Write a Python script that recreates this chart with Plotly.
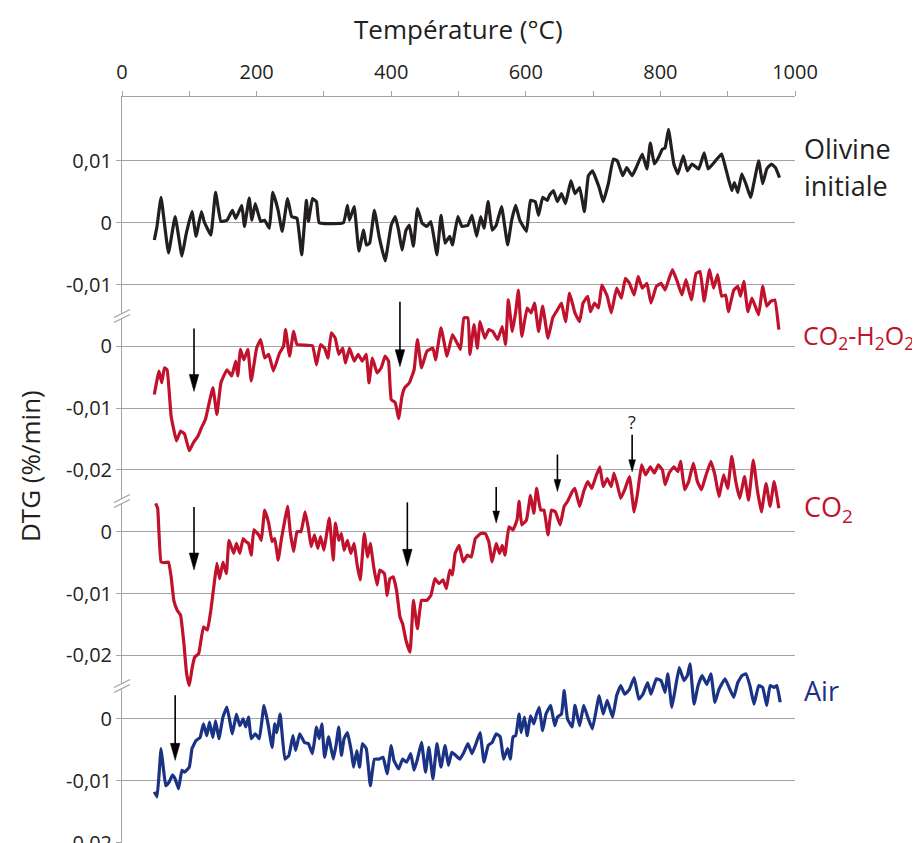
import plotly.graph_objects as go

FONT = "Open Sans"
INK = "#231f20"
RED = "#c0122c"
BLUE = "#1b3385"
GREY = "#a3a3a3"

# Temperature (°C) and DTG (%/min)
olivine_T = [48, 52, 58, 69, 79, 89, 95, 104, 110, 118, 122, 132, 139, 147, 156, 164, 169, 178, 182, 189,
             193, 198, 206, 212, 219, 224, 232, 238, 246, 252, 260, 267, 274, 277, 283, 289, 293, 329, 335, 338,
             345, 352, 359, 363, 368, 375, 382, 391, 400, 406, 411, 416, 422, 427, 433, 439, 446, 453, 459, 468,
             474, 480, 487, 491, 499, 505, 514, 520, 527, 533, 538, 544, 550, 556, 564, 573, 579, 585, 591, 601,
             607, 614, 619, 625, 632, 635, 641, 647, 653, 659, 667, 673, 680, 687, 693, 699, 709, 715, 723, 730,
             736, 744, 750, 758, 764, 773, 780, 785, 791, 797, 803, 807, 812, 820, 826, 834, 840, 847, 857, 865,
             871, 878, 884, 891, 898, 906, 910, 915, 921, 928, 934, 946, 952, 958, 965, 971, 977]
olivine_dtg = [-2.8e-3, -0.6e-3, 4.1e-3, -4.9e-3, 1.0e-3, -5.4e-3, -2.0e-3, 1.8e-3, -2.2e-3, 1.8e-3,
               0.2e-3, -2.0e-3, 4.9e-3, 0.2e-3, 0.4e-3, 2.0e-3, 0.7e-3, 2.8e-3, -0.6e-3, 4.0e-3,
               0.4e-3, 3.1e-3, 0.2e-3, 0.4e-3, -0.9e-3, 4.9e-3, 2.0e-3, -1.4e-3, 3.9e-3, 1.0e-3,
               0.7e-3, -5.2e-3, 3.6e-3, 0.2e-3, 3.9e-3, 3.4e-3, 0.0, 0.0, 2.8e-3, 0.4e-3,
               2.6e-3, -4.6e-3, -1.2e-3, -3.6e-3, -3.3e-3, 2.0e-3, -2.2e-3, -6.2e-3, -0.4e-3, 1.0e-3,
               -1.2e-3, -4.4e-3, -1.2e-3, -0.4e-3, -3.8e-3, 2.3e-3, -0.1e-3, -0.6e-3, 0.2e-3, -5.2e-3,
               1.2e-3, -3.3e-3, -2.2e-3, -3.6e-3, 1.0e-3, -0.6e-3, -0.4e-3, 1.2e-3, -2.2e-3, 1.0e-3,
               -0.9e-3, 3.4e-3, -1.2e-3, -0.4e-3, 2.6e-3, -3.6e-3, 0.4e-3, 2.8e-3, 0.4e-3, -1.4e-3,
               3.6e-3, 3.4e-3, 1.2e-3, 4.1e-3, 3.6e-3, 4.4e-3, 5.2e-3, 3.4e-3, 4.7e-3, 3.1e-3,
               6.8e-3, 4.7e-3, 5.7e-3, 1.8e-3, 7.6e-3, 8.4e-3, 5.7e-3, 3.4e-3, 6.5e-3, 10.3e-3,
               10.0e-3, 7.6e-3, 8.9e-3, 7.6e-3, 8.9e-3, 11.1e-3, 8.7e-3, 12.9e-3, 9.5e-3, 10.5e-3,
               11.9e-3, 12.1e-3, 15.1e-3, 9.5e-3, 7.9e-3, 10.8e-3, 8.4e-3, 9.5e-3, 8.7e-3, 11.3e-3,
               8.7e-3, 9.5e-3, 10.3e-3, 11.1e-3, 8.4e-3, 5.2e-3, 6.5e-3, 4.9e-3, 7.9e-3, 6.0e-3,
               4.1e-3, 10.0e-3, 6.3e-3, 8.7e-3, 9.5e-3, 8.9e-3, 7.3e-3]

co2h2o2_T = [48, 55, 59, 63, 67, 73, 81, 87, 93, 100, 106, 113, 118, 124, 135, 141, 147, 156, 163, 169,
             172, 176, 181, 187, 192, 200, 206, 212, 218, 225, 234, 240, 243, 249, 255, 260, 283, 289, 295, 301,
             306, 311, 317, 322, 328, 332, 338, 345, 351, 357, 363, 367, 372, 379, 385, 391, 396, 400, 406, 411,
             416, 420, 427, 434, 439, 445, 453, 462, 466, 474, 483, 491, 499, 503, 508, 514, 517, 523, 528, 532,
             539, 545, 551, 558, 565, 570, 574, 580, 585, 589, 594, 602, 608, 613, 619, 625, 633, 640, 647, 653,
             659, 665, 673, 680, 685, 692, 696, 702, 708, 713, 721, 727, 735, 742, 748, 754, 761, 767, 773, 780,
             786, 794, 801, 807, 813, 818, 825, 832, 838, 846, 853, 859, 865, 873, 879, 885, 891, 897, 901, 909,
             915, 919, 924, 930, 936, 946, 952, 958, 964, 970, 976]
co2h2o2_dtg = [-7.8e-3, -4.0e-3, -5.9e-3, -3.5e-3, -3.8e-3, -11.3e-3, -15.3e-3, -13.7e-3, -14.2e-3, -16.9e-3,
               -15.6e-3, -14.5e-3, -13.2e-3, -11.8e-3, -6.7e-3, -11.0e-3, -5.9e-3, -3.8e-3, -4.8e-3, -2.4e-3,
               -4.8e-3, -0.5e-3, -2.2e-3, -0.5e-3, -5.6e-3, -0.3e-3, 1.1e-3, -1.9e-3, -1.3e-3, -4.0e-3,
               -1.1e-3, 0.0, 2.7e-3, -1.6e-3, 2.4e-3, 0.3e-3, 0.1e-3, -3.0e-3, 0.3e-3, -0.3e-3,
               -1.9e-3, 2.2e-3, 1.3e-3, -1.3e-3, -0.3e-3, -2.7e-3, -0.3e-3, -2.4e-3, -1.3e-3, -2.4e-3,
               -1.3e-3, -5.9e-3, -1.9e-3, -4.3e-3, -3.5e-3, -1.6e-3, -2.4e-3, -8.6e-3, -9.1e-3, -11.7e-3,
               -8.1e-3, -6.7e-3, -5.9e-3, -3.8e-3, 1.1e-3, -3.5e-3, -0.8e-3, -0.3e-3, -2.2e-3, 3.0e-3,
               -1.6e-3, 1.9e-3, 0.3e-3, -0.5e-3, 4.6e-3, 4.6e-3, -1.3e-3, 3.5e-3, -0.3e-3, 4.0e-3,
               1.3e-3, 2.7e-3, 2.4e-3, 1.1e-3, 3.2e-3, 0.3e-3, 7.5e-3, 2.4e-3, 5.6e-3, 9.1e-3,
               1.6e-3, 6.2e-3, 5.4e-3, 7.0e-3, 2.4e-3, 6.5e-3, 1.3e-3, 4.6e-3, 5.9e-3, 7.0e-3,
               4.0e-3, 8.6e-3, 5.4e-3, 4.0e-3, 7.0e-3, 8.1e-3, 5.6e-3, 7.0e-3, 6.2e-3, 9.9e-3,
               8.1e-3, 5.4e-3, 9.4e-3, 7.8e-3, 11.0e-3, 10.2e-3, 8.3e-3, 11.3e-3, 9.4e-3, 10.2e-3,
               7.0e-3, 9.7e-3, 10.2e-3, 9.1e-3, 11.0e-3, 12.4e-3, 10.5e-3, 8.3e-3, 10.8e-3, 7.5e-3,
               11.8e-3, 12.1e-3, 7.3e-3, 12.4e-3, 9.4e-3, 11.6e-3, 8.1e-3, 8.3e-3, 5.6e-3, 9.1e-3,
               9.7e-3, 8.1e-3, 10.5e-3, 5.6e-3, 7.8e-3, 5.1e-3, 9.7e-3, 6.5e-3, 7.3e-3, 7.5e-3,
               2.7e-3]

co2_T = [50, 53, 58, 64, 69, 73, 77, 82, 87, 92, 96, 100, 104, 108, 114, 121, 127, 132, 137, 141,
         145, 150, 155, 159, 166, 170, 175, 180, 184, 188, 192, 196, 203, 207, 212, 218, 223, 227, 232, 237,
         242, 246, 250, 255, 260, 266, 272, 277, 281, 286, 291, 295, 300, 303, 308, 314, 317, 322, 326, 330,
         335, 340, 345, 349, 354, 360, 365, 369, 374, 379, 383, 390, 394, 398, 403, 408, 413, 417, 422, 428,
         433, 439, 445, 453, 459, 465, 471, 477, 482, 487, 491, 495, 501, 507, 513, 519, 525, 533, 540, 545,
         550, 556, 561, 565, 569, 575, 581, 587, 590, 594, 601, 607, 612, 616, 622, 627, 633, 638, 644, 651,
         657, 662, 669, 673, 680, 686, 692, 698, 704, 710, 715, 721, 727, 731, 736, 741, 747, 754, 761, 766,
         772, 778, 785, 791, 797, 803, 807, 813, 820, 826, 830, 836, 842, 849, 855, 861, 867, 875, 881, 887,
         894, 900, 906, 912, 918, 925, 931, 938, 944, 950, 957, 963, 969, 976]
co2_dtg = [4.6e-3, 3.8e-3, -4.9e-3, -5.0e-3, -4.9e-3, -7.3e-3, -11.1e-3, -12.7e-3, -13.5e-3, -18.1e-3,
           -23.0e-3, -24.9e-3, -22.2e-3, -20.3e-3, -19.7e-3, -15.4e-3, -15.9e-3, -12.7e-3, -8.4e-3, -5.1e-3,
           -7.6e-3, -4.9e-3, -6.8e-3, -1.4e-3, -3.5e-3, -1.9e-3, -3.5e-3, -1.1e-3, -1.6e-3, -1.9e-3,
           -3.8e-3, 0.3e-3, -0.5e-3, -1.4e-3, 3.5e-3, 1.4e-3, -1.6e-3, -1.1e-3, -4.6e-3, -1.1e-3,
           1.9e-3, 4.1e-3, 0.0, -3.2e-3, 0.0, 0.0, 3.2e-3, 0.5e-3, -2.4e-3, -0.5e-3,
           -2.7e-3, -0.8e-3, -3.0e-3, -1.1e-3, 2.2e-3, -4.6e-3, 1.4e-3, -1.4e-3, -0.3e-3, -3.0e-3,
           -1.4e-3, -3.5e-3, -1.9e-3, -5.1e-3, -7.8e-3, -0.3e-3, -4.1e-3, -1.9e-3, -5.7e-3, -8.6e-3,
           -6.2e-3, -6.8e-3, -10.3e-3, -7.6e-3, -7.3e-3, -9.5e-3, -13.8e-3, -14.9e-3, -17.6e-3, -19.5e-3,
           -11.1e-3, -15.7e-3, -11.1e-3, -11.1e-3, -10.3e-3, -7.6e-3, -8.4e-3, -7.8e-3, -9.2e-3, -6.2e-3,
           -7.0e-3, -3.5e-3, -2.2e-3, -4.9e-3, -3.8e-3, -4.1e-3, -1.1e-3, -0.3e-3, -0.3e-3, -1.6e-3,
           -4.9e-3, -1.9e-3, -3.5e-3, -2.2e-3, -3.8e-3, 0.8e-3, 0.3e-3, 1.9e-3, 4.9e-3, 1.1e-3,
           1.9e-3, 5.9e-3, 3.0e-3, 7.0e-3, 3.5e-3, 3.5e-3, -0.5e-3, 3.5e-3, 3.2e-3, 1.1e-3,
           4.1e-3, 4.9e-3, 6.5e-3, 7.0e-3, 4.1e-3, 6.5e-3, 8.1e-3, 7.0e-3, 8.9e-3, 10.5e-3,
           7.3e-3, 8.6e-3, 7.3e-3, 9.5e-3, 7.6e-3, 5.4e-3, 6.8e-3, 8.9e-3, 3.2e-3, 6.2e-3,
           10.8e-3, 9.2e-3, 10.5e-3, 9.5e-3, 10.8e-3, 10.0e-3, 7.6e-3, 9.5e-3, 10.5e-3, 9.7e-3,
           11.4e-3, 6.8e-3, 8.1e-3, 11.1e-3, 8.1e-3, 6.8e-3, 8.9e-3, 11.4e-3, 9.2e-3, 5.7e-3,
           9.2e-3, 7.0e-3, 12.2e-3, 8.1e-3, 5.4e-3, 8.9e-3, 5.1e-3, 11.6e-3, 6.8e-3, 3.2e-3,
           7.8e-3, 4.1e-3, 8.1e-3, 3.8e-3]

air_T = [48, 52, 55, 58, 61, 65, 70, 75, 79, 84, 89, 93, 100, 104, 110, 116, 121, 126, 130, 135,
         139, 144, 150, 156, 164, 170, 175, 180, 184, 188, 192, 198, 204, 211, 217, 223, 227, 230, 235, 242,
         248, 254, 258, 264, 271, 277, 283, 289, 293, 297, 301, 307, 314, 318, 322, 326, 330, 335, 341, 344,
         349, 353, 357, 363, 369, 375, 382, 388, 394, 400, 404, 411, 417, 423, 429, 434, 439, 445, 451, 456,
         462, 468, 474, 480, 485, 490, 496, 502, 508, 514, 520, 525, 532, 538, 544, 550, 556, 562, 567, 573,
         577, 581, 585, 590, 593, 598, 602, 607, 612, 616, 620, 625, 630, 637, 643, 647, 653, 657, 662, 669,
         673, 680, 686, 692, 699, 709, 715, 721, 729, 735, 741, 747, 754, 761, 768, 774, 781, 786, 794, 801,
         807, 811, 817, 822, 828, 835, 840, 844, 850, 856, 862, 869, 875, 881, 887, 896, 902, 909, 915, 921,
         927, 933, 939, 946, 952, 958, 963, 969, 973, 978]
air_dtg = [-11.8e-3, -12.6e-3, -9.1e-3, -4.8e-3, -7.5e-3, -10.8e-3, -10.2e-3, -9.1e-3, -9.7e-3, -11.3e-3,
           -8.3e-3, -8.6e-3, -7.8e-3, -4.8e-3, -3.5e-3, -3.0e-3, -0.8e-3, -2.7e-3, -0.5e-3, -3.0e-3,
           -0.3e-3, -3.2e-3, 0.3e-3, 1.9e-3, -2.4e-3, 0.8e-3, -1.1e-3, 0.0, -1.3e-3, 0.3e-3,
           -3.2e-3, -2.4e-3, -3.2e-3, 2.2e-3, -0.8e-3, -4.6e-3, -0.8e-3, -2.2e-3, 0.8e-3, -6.5e-3,
           -5.9e-3, -2.7e-3, -5.1e-3, -2.4e-3, -3.8e-3, -4.0e-3, -5.6e-3, -1.3e-3, -3.2e-3, -0.8e-3,
           -6.2e-3, -2.9e-3, -6.5e-3, -4.3e-3, -1.3e-3, -5.9e-3, -3.2e-3, -2.2e-3, -5.4e-3, -7.8e-3,
           -5.1e-3, -7.8e-3, -4.0e-3, -4.8e-3, -10.8e-3, -6.5e-3, -6.5e-3, -6.2e-3, -8.9e-3, -4.3e-3,
           -6.7e-3, -8.1e-3, -6.5e-3, -7.0e-3, -5.6e-3, -8.3e-3, -6.5e-3, -3.8e-3, -8.6e-3, -4.6e-3,
           -9.7e-3, -4.0e-3, -7.8e-3, -4.3e-3, -7.5e-3, -5.4e-3, -5.9e-3, -6.5e-3, -5.4e-3, -4.0e-3,
           -5.6e-3, -4.3e-3, -2.2e-3, -7.0e-3, -4.3e-3, -3.8e-3, -2.4e-3, -2.9e-3, -6.5e-3, -4.8e-3,
           -6.5e-3, -2.9e-3, -2.7e-3, 0.8e-3, -2.2e-3, 0.3e-3, -2.7e-3, 0.5e-3, -0.8e-3, 0.8e-3,
           1.9e-3, -1.9e-3, 0.8e-3, 2.2e-3, -1.1e-3, 0.3e-3, 0.8e-3, 4.6e-3, 0.0, -1.3e-3,
           2.2e-3, -1.1e-3, 2.2e-3, 0.3e-3, -1.6e-3, 3.8e-3, 0.8e-3, 3.0e-3, 0.3e-3, 3.8e-3,
           5.4e-3, 4.0e-3, 4.8e-3, 6.7e-3, 3.2e-3, 4.0e-3, 5.9e-3, 4.0e-3, 6.5e-3, 6.2e-3,
           4.3e-3, 7.3e-3, 1.9e-3, 4.8e-3, 8.3e-3, 6.2e-3, 7.0e-3, 8.9e-3, 2.4e-3, 5.4e-3,
           7.0e-3, 5.6e-3, 7.3e-3, 2.7e-3, 4.8e-3, 6.5e-3, 5.1e-3, 3.5e-3, 5.9e-3, 7.0e-3,
           7.3e-3, 5.4e-3, 2.4e-3, 5.4e-3, 5.1e-3, 2.2e-3, 5.4e-3, 5.1e-3, 5.4e-3, 2.7e-3]

x_ticks = [0, 200, 400, 600, 800, 1000]
olivine_ticks = [0.01, 0, -0.01]
olivine_ticktext = ["0,01", "0", "-0,01"]
lower_ticks = [0, -0.01, -0.02]
lower_ticktext = ["0", "-0,01", "-0,02"]

# arrows: (axis, temperature, DTG at the tip, stem length px, head length px)
arrows = [
    ("y2", 107, -7.3e-3, 63, 17), ("y2", 413, -3.3e-3, 65, 17),
    ("y3", 107, -6.2e-3, 63, 17), ("y3", 424, -5.6e-3, 64, 17),
    ("y3", 556, 1.4e-3, 36, 12), ("y3", 647, 6.5e-3, 37, 12), ("y3", 758, 9.7e-3, 37, 12),
    ("y4", 79, -6.7e-3, 65, 17),
]

# page has an 8px body margin; plot box wanted at these page pixels
PAGE = 8
L, R, T, B = 122, 795, 97, 843
W, H = 912, 835


def px(x):
    return (x - L) / (R - L)


def py(y):
    return (B - y) / (B - T)


base = [-0.10037, 0.02034]   # olivine axis; the others are shifted so the curves stack
series = [
    ("y", olivine_T, olivine_dtg, INK, 0.0),
    ("y2", co2h2o2_T, co2h2o2_dtg, RED, 0.02),
    ("y3", co2_T, co2_dtg, RED, 0.05),
    ("y4", air_T, air_dtg, BLUE, 0.0803),
]

fig = go.Figure()
for axis, xs, ys, color, _ in series:
    assert len(xs) == len(ys)
    fig.add_trace(go.Scatter(
        x=xs, y=ys, yaxis=axis, mode="lines",
        line=dict(color=color, width=3.2, shape="spline", smoothing=0.3),
        hoverinfo="skip", showlegend=False,
    ))

axis_common = dict(
    showgrid=True, gridcolor=GREY, gridwidth=1.3, zeroline=False,
    ticks="outside", ticklen=5, tickcolor=GREY, tickwidth=1.3,
    tickfont=dict(family=FONT, size=20, color=INK), automargin=False,
    ticklabeloverflow="allow",
)

layout_axes = {}
for i, (axis, _, _, _, shift) in enumerate(series):
    name = "yaxis" if i == 0 else f"yaxis{i + 1}"
    cfg = dict(axis_common, range=[base[0] + shift, base[1] + shift], anchor="x", side="left")
    if i == 0:
        cfg.update(tickvals=olivine_ticks, ticktext=olivine_ticktext,
                   showline=True, linecolor=GREY, linewidth=1.3)
    else:
        cfg.update(tickvals=lower_ticks, ticktext=lower_ticktext, overlaying="y", showline=False)
    layout_axes[name] = cfg

fig.update_layout(
    **layout_axes,
    template="none",
    width=W, height=H,
    margin=dict(l=L - PAGE, r=W + PAGE - R, t=T - PAGE, b=H + PAGE - B),
    paper_bgcolor="white", plot_bgcolor="white",
    font=dict(family=FONT, color=INK),
    xaxis=dict(
        side="top", range=[0, 1000], tickvals=x_ticks, anchor="y",
        showline=True, linecolor=GREY, linewidth=1.3, showgrid=False, zeroline=False,
        ticks="outside", ticklen=5, tickcolor=GREY, tickwidth=1.3,
        minor=dict(dtick=100, tick0=0, ticks="outside", ticklen=5, tickcolor=GREY, tickwidth=1.3, showgrid=False),
        tickfont=dict(family=FONT, size=20, color=INK), ticklabelstandoff=4, automargin=False,
        ticklabeloverflow="allow",
    ),
)

labels = [
    ("Température (°C)", 458, 29, "center", 26, INK, 0),
    ("DTG (%/min)", 30, 466, "center", 26, INK, -90),
    ("Olivine", 802, 148, "left", 27, INK, 0),
    ("initiale", 802, 186, "left", 27, INK, 0),
    ("CO<sub>2</sub>-H<sub>2</sub>O<sub>2</sub>", 801, 336, "left", 25, RED, 0),
    ("CO<sub>2</sub>", 802, 508, "left", 27, RED, 0),
    ("Air", 802, 690, "left", 27, BLUE, 0),
]
for text, x, y, xanchor, size, color, angle in labels:
    fig.add_annotation(text=text, xref="paper", yref="paper", x=px(x), y=py(y),
                       xanchor=xanchor, yanchor="middle", showarrow=False, textangle=angle,
                       font=dict(family=FONT, size=size, color=color))
fig.add_annotation(text="?", xref="x", x=758, yref="paper", y=py(422), showarrow=False,
                   font=dict(family=FONT, size=18, color=INK))

shapes = []
for axis, t, v, stem, head in arrows:
    hw = head * 0.28
    shapes.append(dict(type="path", xref="x", yref=axis, xsizemode="pixel", ysizemode="pixel",
                       xanchor=t, yanchor=v, path=f"M0,{stem} L0,{head - 2}",
                       line=dict(color="black", width=1.6)))
    shapes.append(dict(type="path", xref="x", yref=axis, xsizemode="pixel", ysizemode="pixel",
                       xanchor=t, yanchor=v, path=f"M{-hw},{head} L{hw},{head} L0,0 Z",
                       fillcolor="black", line=dict(color="black", width=0.5)))

# axis breaks on the left spine
for ym in (316, 501, 686):
    shapes.append(dict(type="rect", xref="paper", yref="paper", layer="above",
                       x0=px(119), x1=px(125), y0=py(ym + 2.5), y1=py(ym - 2.5),
                       fillcolor="white", line=dict(width=0)))
    for off in (2.5, -2.5):
        shapes.append(dict(type="line", xref="paper", yref="paper", layer="above",
                           x0=px(114), y0=py(ym + off + 4), x1=px(130), y1=py(ym + off - 4),
                           line=dict(color=GREY, width=1.3)))

fig.update_layout(shapes=shapes)

fig.write_html("out.html")
